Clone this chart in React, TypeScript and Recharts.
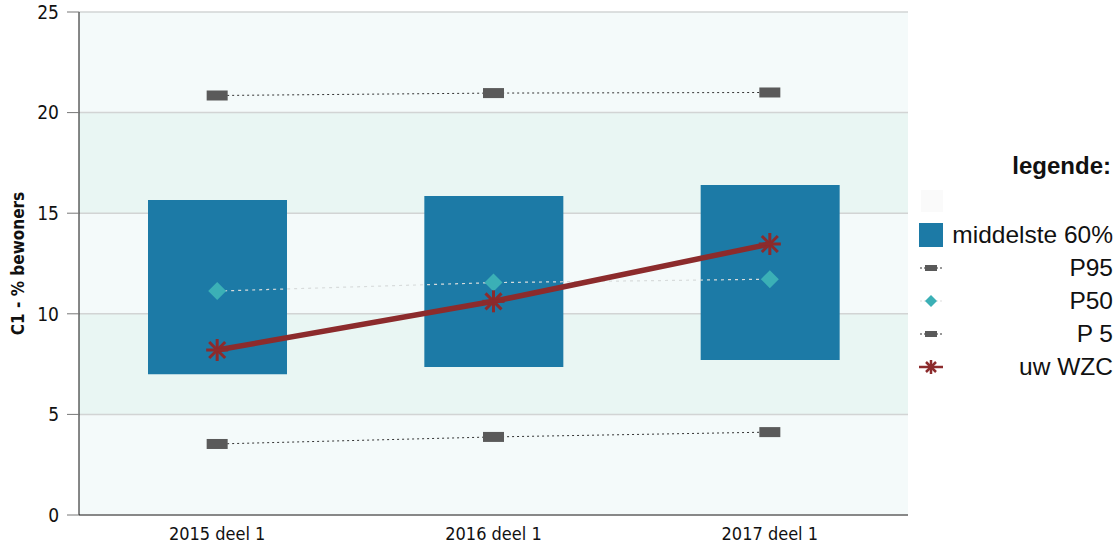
import {
  ComposedChart,
  Bar,
  Line,
  XAxis,
  YAxis,
  CartesianGrid,
} from 'recharts';

const categories = ['2015 deel 1', '2016 deel 1', '2017 deel 1'];
const p20 = [7.0, 7.35, 7.7];
const p80 = [15.65, 15.85, 16.4];
const p95 = [20.85, 20.97, 21.0];
const p50 = [11.13, 11.55, 11.72];
const p5 = [3.53, 3.88, 4.12];
const wzc = [8.2, 10.62, 13.47];
const yTicks = [0, 5, 10, 15, 20, 25];

const BAR_COLOR = '#1c7aa6';
const DIAMOND_COLOR = '#3bb0b6';
const WZC_COLOR = '#8c2b2c';
const PCT_COLOR = '#5a5a5a';
const AXIS_FONT = "'DejaVu Sans Condensed', 'DejaVu Sans', sans-serif";

const chartData = categories.map((cat, i) => ({
  cat,
  range: [p20[i], p80[i]],
  p95: p95[i],
  p50: p50[i],
  p5: p5[i],
  wzc: wzc[i],
}));

function RectDot(props: any) {
  const { cx, cy } = props;
  if (cx == null || cy == null) return null;
  return <rect x={cx - 10.5} y={cy - 5} width={21} height={10} fill={PCT_COLOR} />;
}

function DiamondDot(props: any) {
  const { cx, cy } = props;
  if (cx == null || cy == null) return null;
  const r = 9;
  return (
    <polygon
      points={`${cx},${cy - r} ${cx + r},${cy} ${cx},${cy + r} ${cx - r},${cy}`}
      fill={DIAMOND_COLOR}
    />
  );
}

function StarDot(props: any) {
  const { cx, cy } = props;
  if (cx == null || cy == null) return null;
  const r = 11;
  const d = 8;
  return (
    <g stroke={WZC_COLOR} strokeWidth={3}>
      <line x1={cx} y1={cy - r} x2={cx} y2={cy + r} />
      <line x1={cx - d} y1={cy - d} x2={cx + d} y2={cy + d} />
      <line x1={cx - d} y1={cy + d} x2={cx + d} y2={cy - d} />
      <line x1={cx - r} y1={cy} x2={cx + r} y2={cy} />
    </g>
  );
}

const legendItems = [
  { label: 'middelste 60%', kind: 'box' },
  { label: 'P95', kind: 'rect' },
  { label: 'P50', kind: 'diamond' },
  { label: 'P 5', kind: 'rect' },
  { label: 'uw WZC', kind: 'star' },
];

function LegendIcon({ kind }: { kind: string }) {
  if (kind === 'box') {
    return (
      <svg width={26} height={26}>
        <rect x={1} y={1} width={24} height={24} fill={BAR_COLOR} />
      </svg>
    );
  }
  if (kind === 'rect') {
    return (
      <svg width={26} height={26}>
        <line x1={2} y1={13} x2={24} y2={13} stroke="#333" strokeDasharray="2 2" />
        <rect x={7} y={10} width={12} height={6} fill={PCT_COLOR} />
      </svg>
    );
  }
  if (kind === 'diamond') {
    return (
      <svg width={26} height={26}>
        <line x1={2} y1={13} x2={24} y2={13} stroke="#ddd" strokeDasharray="2 2" />
        <polygon points="13,7 19,13 13,19 7,13" fill={DIAMOND_COLOR} />
      </svg>
    );
  }
  return (
    <svg width={26} height={26}>
      <g stroke={WZC_COLOR} strokeWidth={2.5}>
        <line x1={1} y1={13} x2={25} y2={13} />
        <line x1={13} y1={6} x2={13} y2={20} />
        <line x1={8} y1={8} x2={18} y2={18} />
        <line x1={8} y1={18} x2={18} y2={8} />
      </g>
    </svg>
  );
}

export default function App() {
  return (
    <div style={{ position: 'fixed', left: 0, top: 0, width: 1120, height: 544, background: '#fff' }}>
      <ComposedChart
        width={910}
        height={544}
        data={chartData}
        margin={{ top: 12, right: 2, bottom: 0, left: 0 }}
      >
        <CartesianGrid
          vertical={false}
          stroke="#d2d4d4"
          strokeWidth={1.5}
          horizontalFill={['#f4fafa', '#e9f6f3']}
          fillOpacity={1}
        />
        <XAxis
          dataKey="cat"
          height={29}
          tickLine={false}
          axisLine={{ stroke: '#6b6b6b', strokeWidth: 1.5 }}
          tick={{ fontSize: 18, fill: '#111', fontFamily: AXIS_FONT }}
          tickMargin={6}
        />
        <YAxis
          width={79}
          domain={[0, 25]}
          ticks={yTicks}
          interval={0}
          tickSize={12}
          tickMargin={8}
          tickLine={{ stroke: '#777' }}
          axisLine={{ stroke: '#111' }}
          tick={{ fontSize: 19, fill: '#111', fontFamily: AXIS_FONT }}
          label={{
            value: 'C1 - % bewoners',
            angle: -90,
            position: 'insideLeft',
            offset: 18,
            style: { textAnchor: 'middle', fontSize: 17, fontWeight: 'bold', fill: '#111', fontFamily: AXIS_FONT },
          }}
        />
        <Bar dataKey="range" fill={BAR_COLOR} barSize={139} isAnimationActive={false} />
        <Line
          dataKey="p95"
          stroke="#333"
          strokeWidth={1}
          strokeDasharray="2 3"
          dot={<RectDot />}
          activeDot={false}
          isAnimationActive={false}
        />
        <Line
          dataKey="p5"
          stroke="#333"
          strokeWidth={1}
          strokeDasharray="2 3"
          dot={<RectDot />}
          activeDot={false}
          isAnimationActive={false}
        />
        <Line
          dataKey="p50"
          stroke="#d8dcdc"
          strokeWidth={1.2}
          strokeDasharray="3 4"
          dot={<DiamondDot />}
          activeDot={false}
          isAnimationActive={false}
        />
        <Line
          dataKey="wzc"
          stroke={WZC_COLOR}
          strokeWidth={5.5}
          dot={<StarDot />}
          activeDot={false}
          isAnimationActive={false}
        />
      </ComposedChart>
      <div
        style={{
          position: 'absolute',
          left: 918,
          top: 148,
          width: 195,
          fontFamily: "'Liberation Sans', Arial, sans-serif",
          color: '#111',
        }}
      >
        <div style={{ textAlign: 'right', fontWeight: 'bold', fontSize: 24, height: 34, lineHeight: '36px', paddingRight: 2 }}>
          legende:
        </div>
        <div style={{ height: 36, position: 'relative' }}>
          <div style={{ position: 'absolute', left: 3, top: 8, width: 22, height: 22, background: '#fafafa' }} />
        </div>
        {legendItems.map((item) => (
          <div
            key={item.label}
            style={{ display: 'flex', alignItems: 'center', justifyContent: 'space-between', height: 33 }}
          >
            <LegendIcon kind={item.kind} />
            <span style={{ fontSize: 24.5 }}>{item.label}</span>
          </div>
        ))}
      </div>
    </div>
  );
}
